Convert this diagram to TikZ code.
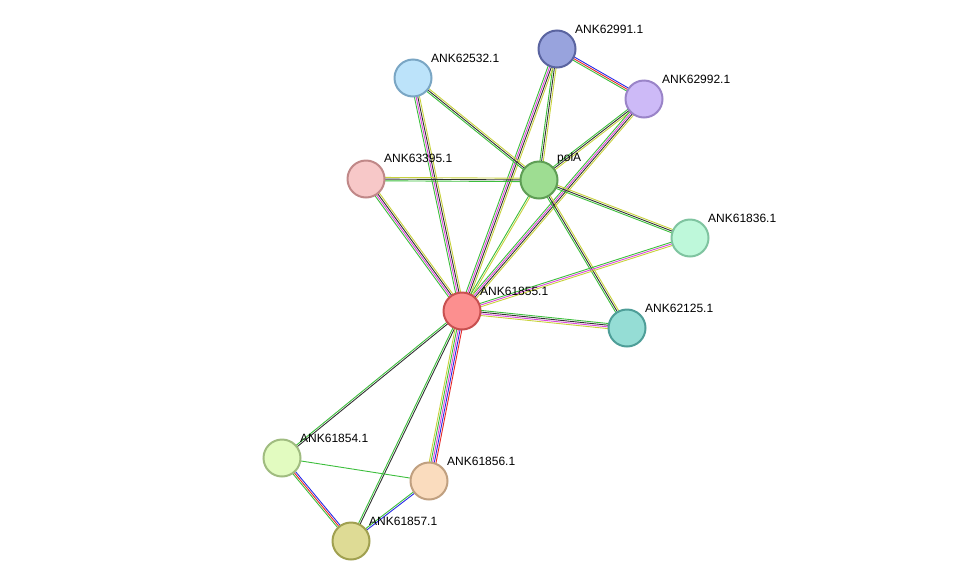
\documentclass[tikz,border=0pt]{standalone}
\usepackage{fontspec}
\setmainfont{Liberation Sans}
\usetikzlibrary{calc,backgrounds}
\definecolor{eg}{RGB}{60,190,60}
\definecolor{ek}{RGB}{50,50,50}
\definecolor{ey}{RGB}{200,210,60}
\definecolor{em}{RGB}{220,70,220}
\definecolor{eb}{RGB}{40,40,230}
\definecolor{er}{RGB}{230,40,40}
\newcommand\edg[4]{\foreach \c [count=\i] in {#4} {\pgfmathsetmacro\o{(\i-(#3+1)/2)*1.7}
 \draw[\c,line width=0.9pt] ($(#1.center)!\o pt!90:(#2.center)$) -- ($(#2.center)!\o pt!-90:(#1.center)$);}}
\tikzset{prot/.style={circle,minimum size=37pt,inner sep=0pt,line width=2pt},
 lab/.style={anchor=south west,inner sep=0pt,font=\fontsize{12}{14}\selectfont}}
\begin{document}
\begin{tikzpicture}[x=1pt,y=-1pt]
\useasboundingbox (0,0) rectangle (976,587);
\node[prot,fill={rgb,255:red,152;green,163;blue,221},draw={rgb,255:red,90;green,100;blue,160}] (a) at (557,49) {};
\node[prot,fill={rgb,255:red,205;green,186;blue,247},draw={rgb,255:red,154;green,132;blue,200}] (b) at (644,99) {};
\node[prot,fill={rgb,255:red,188;green,227;blue,250},draw={rgb,255:red,122;green,166;blue,196}] (c) at (413,78) {};
\node[prot,fill={rgb,255:red,158;green,221;blue,146},draw={rgb,255:red,94;green,158;blue,85}] (p) at (539,180) {};
\node[prot,fill={rgb,255:red,247;green,200;blue,200},draw={rgb,255:red,192;green,136;blue,136}] (d) at (366,179) {};
\node[prot,fill={rgb,255:red,190;green,248;blue,218},draw={rgb,255:red,127;green,196;blue,160}] (e) at (690,238) {};
\node[prot,fill={rgb,255:red,252;green,143;blue,143},draw={rgb,255:red,200;green,80;blue,80}] (h) at (462,311) {};
\node[prot,fill={rgb,255:red,149;green,221;blue,213},draw={rgb,255:red,78;green,158;blue,152}] (f) at (627,328) {};
\node[prot,fill={rgb,255:red,226;green,251;blue,192},draw={rgb,255:red,160;green,188;blue,128}] (g) at (282,458) {};
\node[prot,fill={rgb,255:red,250;green,220;blue,190},draw={rgb,255:red,192;green,160;blue,128}] (i) at (429,481) {};
\node[prot,fill={rgb,255:red,222;green,219;blue,149},draw={rgb,255:red,160;green,160;blue,80}] (j) at (351,541) {};
\begin{scope}[on background layer]
\edg{a}{b}{3}{eg,er,eb}
\edg{a}{p}{3}{eg,ek,ey}
\edg{a}{h}{4}{eg,em,ek,ey}
\edg{b}{p}{3}{eg,ek,ey}
\edg{b}{h}{4}{eg,em,ek,ey}
\edg{c}{p}{3}{eg,ek,ey}
\edg{c}{h}{4}{eg,em,ek,ey}
\edg{d}{p}{3}{eg,ek,ey}
\edg{d}{h}{4}{eg,em,ek,ey}
\edg{p}{e}{3}{eg,ek,ey}
\edg{p}{f}{3}{eg,ek,ey}
\edg{p}{h}{2}{eg,ey}
\edg{e}{h}{3}{eg,em,ey}
\edg{f}{h}{4}{eg,ek,em,ey}
\edg{h}{g}{2}{eg,ek}
\edg{h}{j}{2}{eg,ek}
\edg{h}{i}{5}{ey,eg,em,eb,er}
\edg{g}{i}{1}{eg}
\edg{g}{j}{3}{eg,er,eb}
\edg{i}{j}{2}{eg,eb}
\end{scope}
\node[lab] (la) at (575,34) {ANK62991.1};
\node[lab] (lb) at (662,84) {ANK62992.1};
\node[lab] (lc) at (431,63) {ANK62532.1};
\node[lab] (lp) at (557,164) {polA};
\node[lab] (ld) at (384,163) {ANK63395.1};
\node[lab] (le) at (708,223) {ANK61836.1};
\node[lab] (lh) at (480,296) {ANK61855.1};
\node[lab] (lf) at (645,313) {ANK62125.1};
\node[lab] (lg) at (300,443) {ANK61854.1};
\node[lab] (li) at (447,466) {ANK61856.1};
\node[lab] (lj) at (369,526) {ANK61857.1};
\end{tikzpicture}
\end{document}
